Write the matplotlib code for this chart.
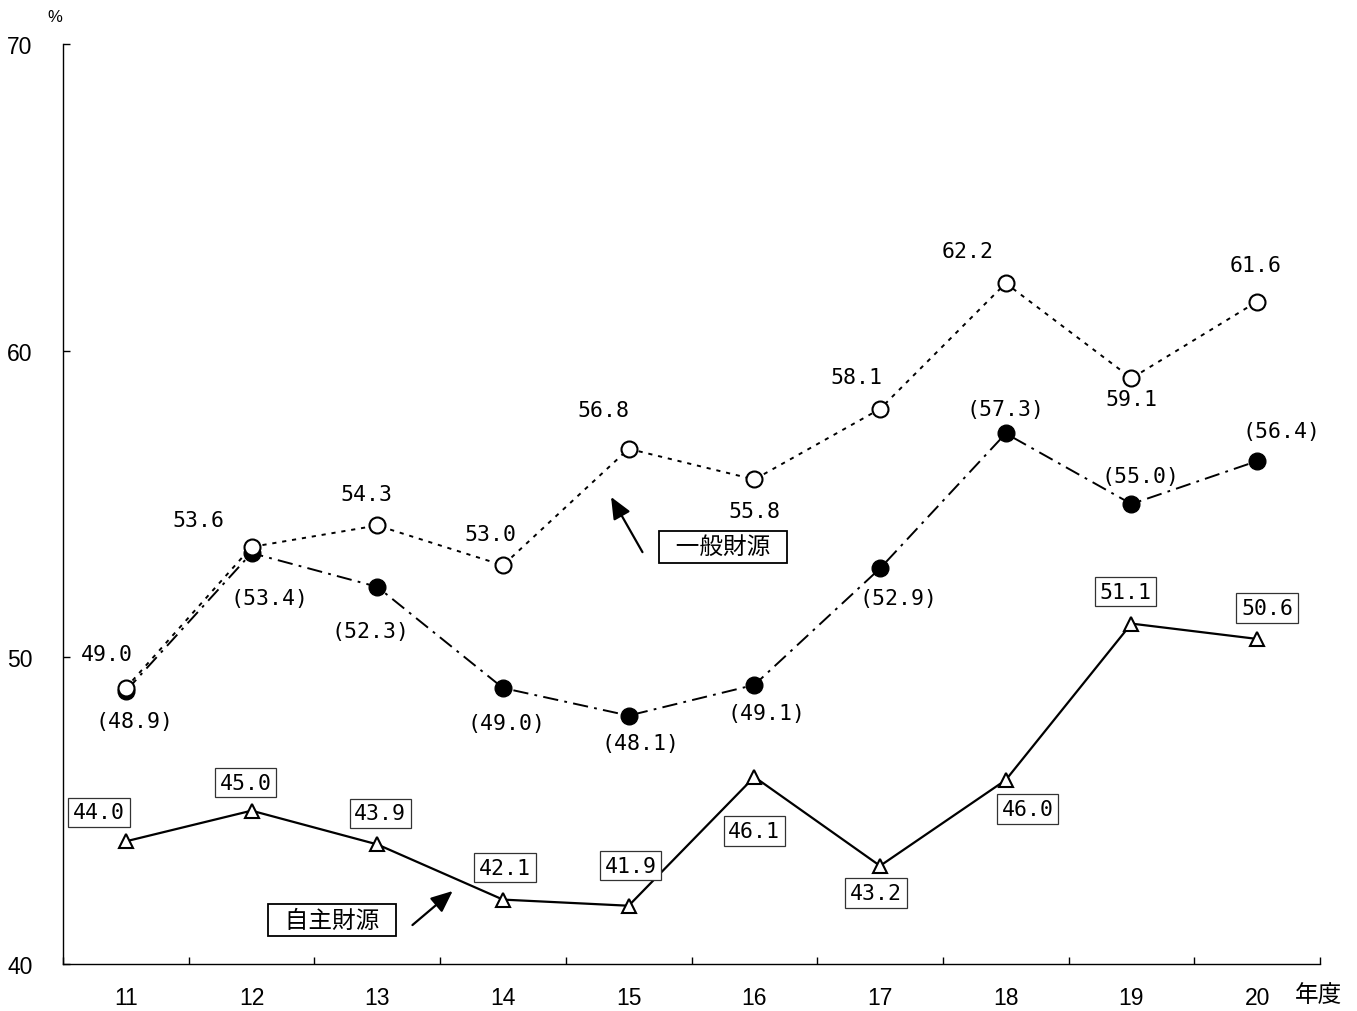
import matplotlib
matplotlib.use('Agg')
import matplotlib.pyplot as plt
import numpy as np

# Fiscal years (Heisei) and ratios in percent
years = ['11', '12', '13', '14', '15', '16', '17', '18', '19', '20']
general_revenue = [49.0, 53.6, 54.3, 53.0, 56.8, 55.8, 58.1, 62.2, 59.1, 61.6]
general_revenue_paren = [48.9, 53.4, 52.3, 49.0, 48.1, 49.1, 52.9, 57.3, 55.0, 56.4]
own_revenue = [44.0, 45.0, 43.9, 42.1, 41.9, 46.1, 43.2, 46.0, 51.1, 50.6]
y_ticks = [40, 50, 60, 70]

# Label offsets in pixels (dx right, dy down) relative to each point
off_general = [(-19, -34), (-53, -27), (-11, -31), (-13, -31), (-25, -39),
               (0, 32), (-24, -32), (-38, -32), (0, 21), (-2, -37)]
off_paren = [(9, 30), (18, 45), (-7, 44), (4, 35), (12, 27),
             (12, 28), (18, 30), (0, -24), (9, -28), (24, -30)]
off_own = [(-27, -29), (-6, -28), (3, -31), (2, -32), (2, -40),
           (0, 54), (-4, 27), (22, 29), (-6, -32), (10, -31)]

CJK = ['Noto Sans CJK JP', 'DejaVu Sans']
MONO = ['DejaVu Sans Mono']
plt.rcParams['font.family'] = ['Liberation Sans', 'Noto Sans CJK JP']
plt.rcParams['lines.scale_dashes'] = False

W, H = 1357, 1012
fig = plt.figure(figsize=(W / 100, H / 100), dpi=100)
ax = fig.add_axes([63 / W, 1 - 965 / H, (1320 - 63) / W, (965 - 45) / H])
x = np.arange(len(years))

ax.plot(x, own_revenue, color='black', lw=1.6, marker='^', ms=10.5,
        mfc='white', mec='black', mew=1.5, zorder=3)
ax.plot(x, general_revenue_paren, color='black', lw=1.4,
        dashes=(11, 4.5, 2, 4.5), marker='o', ms=12, mfc='black',
        mec='black', zorder=3)
ax.plot(x, general_revenue, color='black', lw=1.4, dashes=(3, 4.2),
        marker='o', ms=11.5, mfc='white', mec='black', mew=1.5, zorder=4)

k = 0.72  # pixels -> points at 100 dpi
for xi, v, (dx, dy) in zip(x, general_revenue, off_general):
    ax.annotate(f'{v:.1f}', (xi, v), xytext=(dx * k, -dy * k),
                textcoords='offset points', ha='center', va='center',
                fontsize=15.5, family=MONO)
for xi, v, (dx, dy) in zip(x, general_revenue_paren, off_paren):
    ax.annotate(f'({v:.1f})', (xi, v), xytext=(dx * k, -dy * k),
                textcoords='offset points', ha='center', va='center',
                fontsize=15.5, family=MONO)
for xi, v, (dx, dy) in zip(x, own_revenue, off_own):
    ax.annotate(f'{v:.1f}', (xi, v), xytext=(dx * k, -dy * k),
                textcoords='offset points', ha='center', va='center',
                fontsize=15.5, family=MONO, zorder=5,
                bbox=dict(boxstyle='square,pad=0.22', fc='white',
                          ec='#333333', lw=0.9))

# Series name callouts
arrow = dict(arrowstyle='-|>,head_length=0.6,head_width=0.26',
             mutation_scale=22, lw=1.6, color='black', shrinkA=0, shrinkB=0)
box = dict(boxstyle='square,pad=0.2', fc='white', ec='black', lw=1.3)
ax.annotate('', xy=(3.86, 55.23), xytext=(4.11, 53.43), arrowprops=arrow)
ax.text(4.75, 53.6, '\u2002一般財源\u2002', ha='center', va='center',
        fontsize=17, family=CJK, bbox=box)
ax.annotate('', xy=(2.60, 42.38), xytext=(2.28, 41.27), arrowprops=arrow)
ax.text(1.64, 41.43, '\u2002自主財源\u2002', ha='center', va='center',
        fontsize=17, family=CJK, bbox=box)

ax.set_xlim(-0.5, len(years) - 0.5)
ax.set_ylim(y_ticks[0], y_ticks[-1])
for s in ('top', 'right'):
    ax.spines[s].set_visible(False)
for s in ('left', 'bottom'):
    ax.spines[s].set_linewidth(1.0)

ax.set_yticks(y_ticks)
ax.tick_params(axis='y', direction='in', length=5, width=1, pad=22,
               labelsize=16.5)
ax.set_xticks(x, years)
ax.set_xticks(np.arange(-0.5, len(years), 1), minor=True)
ax.tick_params(axis='x', which='major', length=0, pad=16, labelsize=16.5)
ax.tick_params(axis='x', which='minor', direction='in', length=5, width=1)

fig.text(1318 / W, 1 - 996 / H, '年度', ha='center', va='center',
         fontsize=17, family=CJK)
fig.text(55 / W, 1 - 18 / H, '%', ha='center', va='center', fontsize=12)

fig.savefig('out.png', dpi=100)
